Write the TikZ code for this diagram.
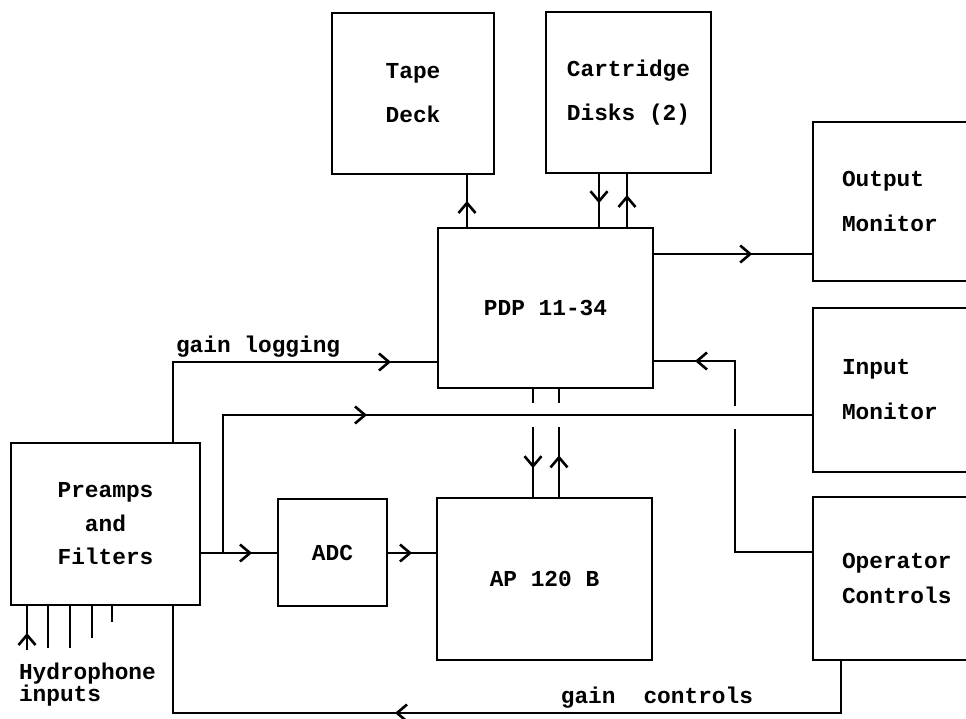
\documentclass[tikz,border=0pt]{standalone}
\usepackage{fontspec}
\setmainfont{Liberation Mono}
\usetikzlibrary{arrows.meta,decorations.markings}
\tikzset{
  txtfont/.style={font=\bfseries\fontsize{22.8}{#1}\selectfont},
  blk/.style={draw, line width=2.8pt, rectangle, inner sep=0pt, outer sep=0pt, align=center, txtfont=44},
  lbl/.style={inner sep=0pt, outer sep=0pt, txtfont=21},
  wire/.style={line width=2.8pt},
  arrat/.style={postaction={decorate}, decoration={markings,
      mark=at position #1 with {\arrow{Straight Barb[length=10pt,width=17pt,line width=2.6pt]}}}}
}
\begin{document}
\begin{tikzpicture}[x=1pt,y=-1pt]
\useasboundingbox (0,0) rectangle (966,719);
\clip (0,0) rectangle (966,719);

% free-end coordinates
\coordinate (h1) at (27,650);
\coordinate (h2) at (48,648);
\coordinate (h3) at (70,648);
\coordinate (h4) at (92,638);
\coordinate (h5) at (112,622);
\coordinate (j) at (223,553);
\coordinate (gLa) at (533,403);
\coordinate (gLb) at (533,427);
\coordinate (gRa) at (559,403);
\coordinate (gRb) at (559,427);
\coordinate (gOa) at (735,406);
\coordinate (gOb) at (735,429);
\coordinate (gc) at (173,713);

% connectors
\draw[wire, arrat=0.5] (467,228) -- (467,174);
\draw[wire, arrat=0.55] (599,173) -- (599,228);
\draw[wire, arrat=0.6] (627,228) -- (627,173);
\draw[wire, arrat=0.62] (653,254) -- (813,254);
\draw[wire, arrat=-47pt] (173,443) |- (438,362);
\draw[wire, arrat=-26pt] (200,553) -- (278,553);
\draw[wire, arrat=282pt] (j) |- (813,415);
\draw[wire, arrat=0.5] (387,553) -- (437,553);
\draw[wire] (533,388) -- (gLa);
\draw[wire, arrat=0.58] (gLb) -- (533,498);
\draw[wire, arrat=0.6] (559,498) -- (gRb);
\draw[wire] (gRa) -- (559,388);
\draw[wire] (813,552) -| (gOb);
\draw[wire, arrat=-42pt] (gOa) |- (653,361);
\draw[wire, arrat=-330pt] (841,660) |- (gc) -- (173,605);
\draw[wire, arrat=17pt] (h1) -- (27,605);
\draw[wire] (48,605) -- (h2);
\draw[wire] (70,605) -- (h3);
\draw[wire] (92,605) -- (h4);
\draw[wire] (112,605) -- (h5);

% blocks
\node[blk, minimum width=162pt, minimum height=161pt] (tape) at (413,93.5) {Tape\\Deck};
\node[blk, minimum width=165pt, minimum height=161pt] (cart) at (628.5,92.5) {Cartridge\\Disks (2)};
\node[blk, minimum width=215pt, minimum height=160pt] (pdp) at (545.5,308) {PDP 11-34};
\node[blk, minimum width=215pt, minimum height=162pt] (ap) at (544.5,579) {AP 120 B};
\node[blk, minimum width=109pt, minimum height=107pt] (adc) at (332.5,552.5) {ADC};
\node[blk, minimum width=189pt, minimum height=162pt, txtfont=33.5] (pre) at (105.5,524) {Preamps\\and\\Filters};
\node[blk, minimum width=200pt, minimum height=159pt, text width=142pt, align=left, txtfont=45] (out) at (913,201.5) {Output\\Monitor};
\node[blk, minimum width=200pt, minimum height=164pt, text width=142pt, align=left, txtfont=45] (inm) at (913,390) {Input\\Monitor};
\node[blk, minimum width=200pt, minimum height=163pt, text width=142pt, align=left, txtfont=35] (opc) at (913,578.5) {Operator\\Controls};

% labels
\node[lbl, anchor=base west] (gl) at (176,352) {gain logging};
\node[lbl, anchor=base east] (gcl) at (753,703) {gain\hspace{28pt}controls};
\node[lbl, anchor=north west, align=left] (hyd) at (19,663) {Hydrophone\\inputs};
\end{tikzpicture}
\end{document}
